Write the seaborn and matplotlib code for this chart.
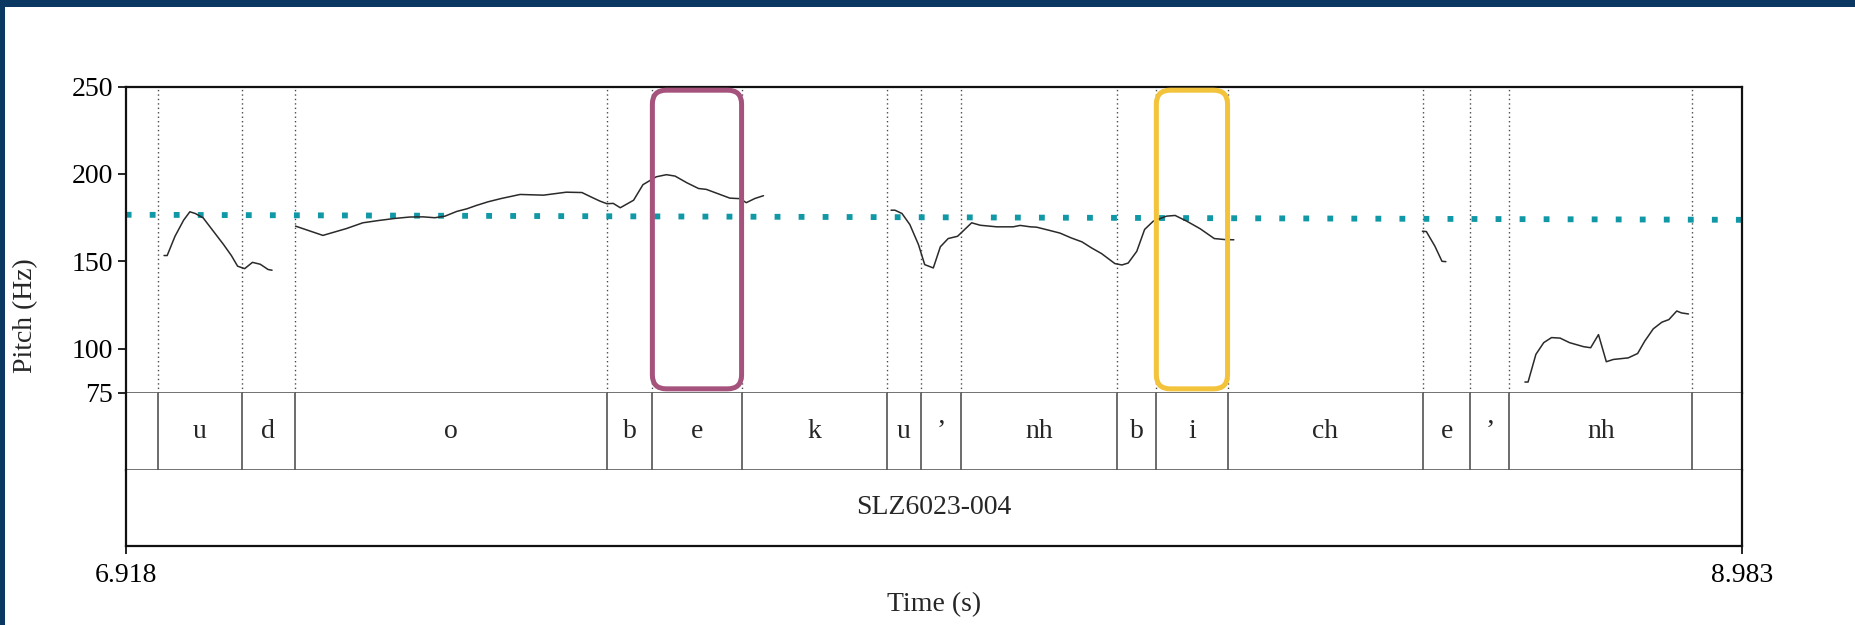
import matplotlib.pyplot as plt
import seaborn as sns
from matplotlib.patches import FancyBboxPatch, Rectangle

# interval tier: boundaries (s) and labels
t_start, t_end = 6.918, 8.983
bounds = [6.959, 7.066, 7.134, 7.533, 7.591, 7.705, 7.891, 7.934, 7.985,
          8.185, 8.235, 8.326, 8.576, 8.636, 8.686, 8.920]
seg_labels = ["", "u", "d", "o", "b", "e", "k", "u", "\u2019", "nh", "b",
              "i", "ch", "e", "\u2019", "nh", ""]
utt_label = "SLZ6023-004"

# pitch contour, one array pair per voiced stretch
f0_t1 = [6.967, 6.971, 6.981, 6.992, 7.000, 7.007, 7.017, 7.030, 7.043,
         7.053, 7.061, 7.070, 7.080, 7.090, 7.100, 7.105]
f0_hz1 = [153.4, 153.4, 164.4, 173.6, 178.4, 177.4, 174.9, 167.3, 159.7,
          153.4, 147.3, 145.9, 149.5, 148.4, 145.4, 145.0]
f0_t2 = [7.135, 7.170, 7.200, 7.221, 7.241, 7.262, 7.281, 7.298, 7.313,
         7.326, 7.341, 7.354, 7.366, 7.381, 7.398, 7.422, 7.452, 7.481,
         7.501, 7.513, 7.524, 7.533, 7.541, 7.550, 7.567, 7.579, 7.596,
         7.609, 7.620, 7.635, 7.650, 7.660, 7.675, 7.690, 7.703, 7.711,
         7.722, 7.733]
f0_hz2 = [170.2, 164.9, 168.8, 172.1, 173.4, 174.6, 175.4, 175.5, 175.0,
          175.9, 178.6, 180.1, 182.0, 184.1, 186.0, 188.3, 187.9, 189.6,
          189.4, 186.8, 184.5, 183.0, 183.2, 180.7, 185.0, 193.9, 198.4,
          199.6, 198.8, 195.0, 191.7, 191.2, 188.7, 186.2, 185.9, 183.6,
          186.0, 187.6]
f0_t3 = [7.896, 7.901, 7.910, 7.920, 7.931, 7.939, 7.950, 7.959, 7.969,
         7.981, 7.999, 8.010, 8.031, 8.052, 8.061, 8.074, 8.082, 8.099,
         8.112, 8.126, 8.140, 8.152, 8.165, 8.182, 8.191, 8.199, 8.210,
         8.220, 8.231, 8.248, 8.259, 8.274, 8.291, 8.309, 8.323, 8.334]
f0_hz3 = [179.3, 179.3, 177.4, 171.1, 159.7, 148.2, 146.3, 158.4, 163.1,
          164.4, 172.1, 170.7, 169.8, 169.8, 170.6, 169.8, 169.6, 167.7,
          166.2, 163.5, 161.2, 157.8, 154.5, 148.8, 148.0, 149.1, 155.8,
          168.3, 173.0, 175.9, 176.3, 173.0, 168.7, 163.1, 162.5, 162.4]
f0_t4 = [8.575, 8.580, 8.591, 8.600, 8.605]
f0_hz4 = [167.3, 167.1, 158.7, 150.1, 149.9]
f0_t5 = [8.706, 8.710, 8.720, 8.730, 8.740, 8.751, 8.763, 8.781, 8.790,
         8.800, 8.810, 8.819, 8.838, 8.850, 8.859, 8.870, 8.881, 8.890,
         8.900, 8.906, 8.915]
f0_hz5 = [81.1, 81.1, 96.9, 103.6, 106.5, 106.2, 103.6, 101.3, 100.7,
          108.2, 92.7, 94.0, 94.9, 97.4, 104.4, 111.5, 115.3, 116.8,
          121.7, 120.6, 120.0]

# declination trend line (Hz at start and end)
trend_hz = [176.7, 173.8]

# highlighted vowels: (start, end) s, colour
highlights = [(7.591, 7.705, "#a5527d"), (8.235, 8.326, "#f3c33b")]
box_hz = (77.2, 247.9)

y_ticks = [75, 100, 150, 200, 250]

sns.set_style("ticks")
plt.rcParams["font.family"] = ["Liberation Serif", "DejaVu Serif"]
plt.rcParams["font.size"] = 20

W, H = 1855, 625
fig = plt.figure(figsize=(W / 100, H / 100), dpi=100)
fig.patch.set_facecolor("white")

x0, x1 = 125.7 / W, 1741.7 / W
y_top, y_75, y_tier, y_bot = 86.5, 392.7, 469.5, 546.0
def frac(px):
    return 1 - px / H

ax_p = fig.add_axes([x0, frac(y_75), x1 - x0, frac(y_top) - frac(y_75)])
ax_t1 = fig.add_axes([x0, frac(y_tier), x1 - x0, frac(y_75) - frac(y_tier)])
ax_t2 = fig.add_axes([x0, frac(y_bot), x1 - x0, frac(y_tier) - frac(y_bot)])

frame_c, inner_c = "#111111", "#5a5a5a"
for ax in (ax_p, ax_t1, ax_t2):
    ax.set_xlim(t_start, t_end)
    ax.set_facecolor("white")
    for side in ("left", "right", "top", "bottom"):
        ax.spines[side].set_color(frame_c)
        ax.spines[side].set_linewidth(1.6)
ax_p.spines["bottom"].set_color(inner_c)
ax_p.spines["bottom"].set_linewidth(1.2)
ax_t1.spines["top"].set_visible(False)
ax_t1.spines["bottom"].set_color(inner_c)
ax_t1.spines["bottom"].set_linewidth(1.2)
ax_t2.spines["top"].set_visible(False)

# pitch panel
ax_p.set_ylim(75, 250)
for b in bounds:
    ax_p.axvline(b, color="#4a4a4a", lw=1.0, ls=(0, (1, 2.2)), zorder=1)

ax_p.plot([t_start, t_end], trend_hz, color="#1198a6", lw=4.2,
          ls=(0, (1, 3.12)), solid_capstyle="butt", dash_capstyle="butt",
          zorder=2, clip_on=False)

for t, hz in [(f0_t1, f0_hz1), (f0_t2, f0_hz2), (f0_t3, f0_hz3),
              (f0_t4, f0_hz4), (f0_t5, f0_hz5)]:
    sns.lineplot(x=t, y=hz, ax=ax_p, color="#2a2a2a", lw=1.1,
                 estimator=None, sort=False, zorder=3)

ax_p.set_yticks(y_ticks)
ax_p.set_yticklabels([str(v) for v in y_ticks])
ax_p.set_xticks([])
ax_p.tick_params(axis="y", direction="out", length=6, width=1.2, pad=3,
                 labelsize=20, colors="black")
ax_p.set_xlabel("")
ax_p.set_ylabel("")

# rounded highlight boxes with circular corners in pixel space
fig.canvas.draw()
px_s = ax_p.transData.transform((1, 0))[0] - ax_p.transData.transform((0, 0))[0]
px_hz = ax_p.transData.transform((0, 1))[1] - ax_p.transData.transform((0, 0))[1]
r_px = 14
for a, b, col in highlights:
    box = FancyBboxPatch((a, box_hz[0]), b - a, box_hz[1] - box_hz[0],
                         boxstyle=f"round,pad=0,rounding_size={r_px / px_s}",
                         mutation_aspect=px_s / px_hz, fill=False,
                         edgecolor=col, lw=3.6, zorder=5, clip_on=False)
    ax_p.add_patch(box)

# phone tier
ax_t1.set_ylim(0, 1)
ax_t1.set_yticks([])
ax_t1.set_xticks([])
for b in bounds:
    ax_t1.axvline(b, color="#444444", lw=1.1)
edges = [t_start] + bounds + [t_end]
for lab, a, b in zip(seg_labels, edges[:-1], edges[1:]):
    if lab:
        ax_t1.text((a + b) / 2, 0.5, lab, ha="center", va="center",
                   fontsize=20)

# utterance tier
ax_t2.set_ylim(0, 1)
ax_t2.set_yticks([])
ax_t2.set_xticks([t_start, t_end])
ax_t2.set_xticklabels([f"{t_start:.3f}", f"{t_end:.3f}"])
ax_t2.tick_params(axis="x", direction="out", length=6, width=1.2, pad=6,
                  labelsize=20, colors="black")
ax_t2.text((t_start + t_end) / 2, 0.5, utt_label, ha="center", va="center",
           fontsize=20)

fig.text(25.7 / W, frac(316), "Pitch (Hz)", rotation=90, ha="center",
         va="center", fontsize=20)
fig.text(933.7 / W, frac(605), "Time (s)", ha="center", va="center",
         fontsize=20)

# slide frame
navy = "#0b3763"
fig.add_artist(Rectangle((0, 1 - 7 / H), 1, 7 / H, transform=fig.transFigure,
                         color=navy, lw=0))
fig.add_artist(Rectangle((0, 0), 5 / W, 1, transform=fig.transFigure,
                         color=navy, lw=0))

fig.savefig("out.png", dpi=100, facecolor="white")
